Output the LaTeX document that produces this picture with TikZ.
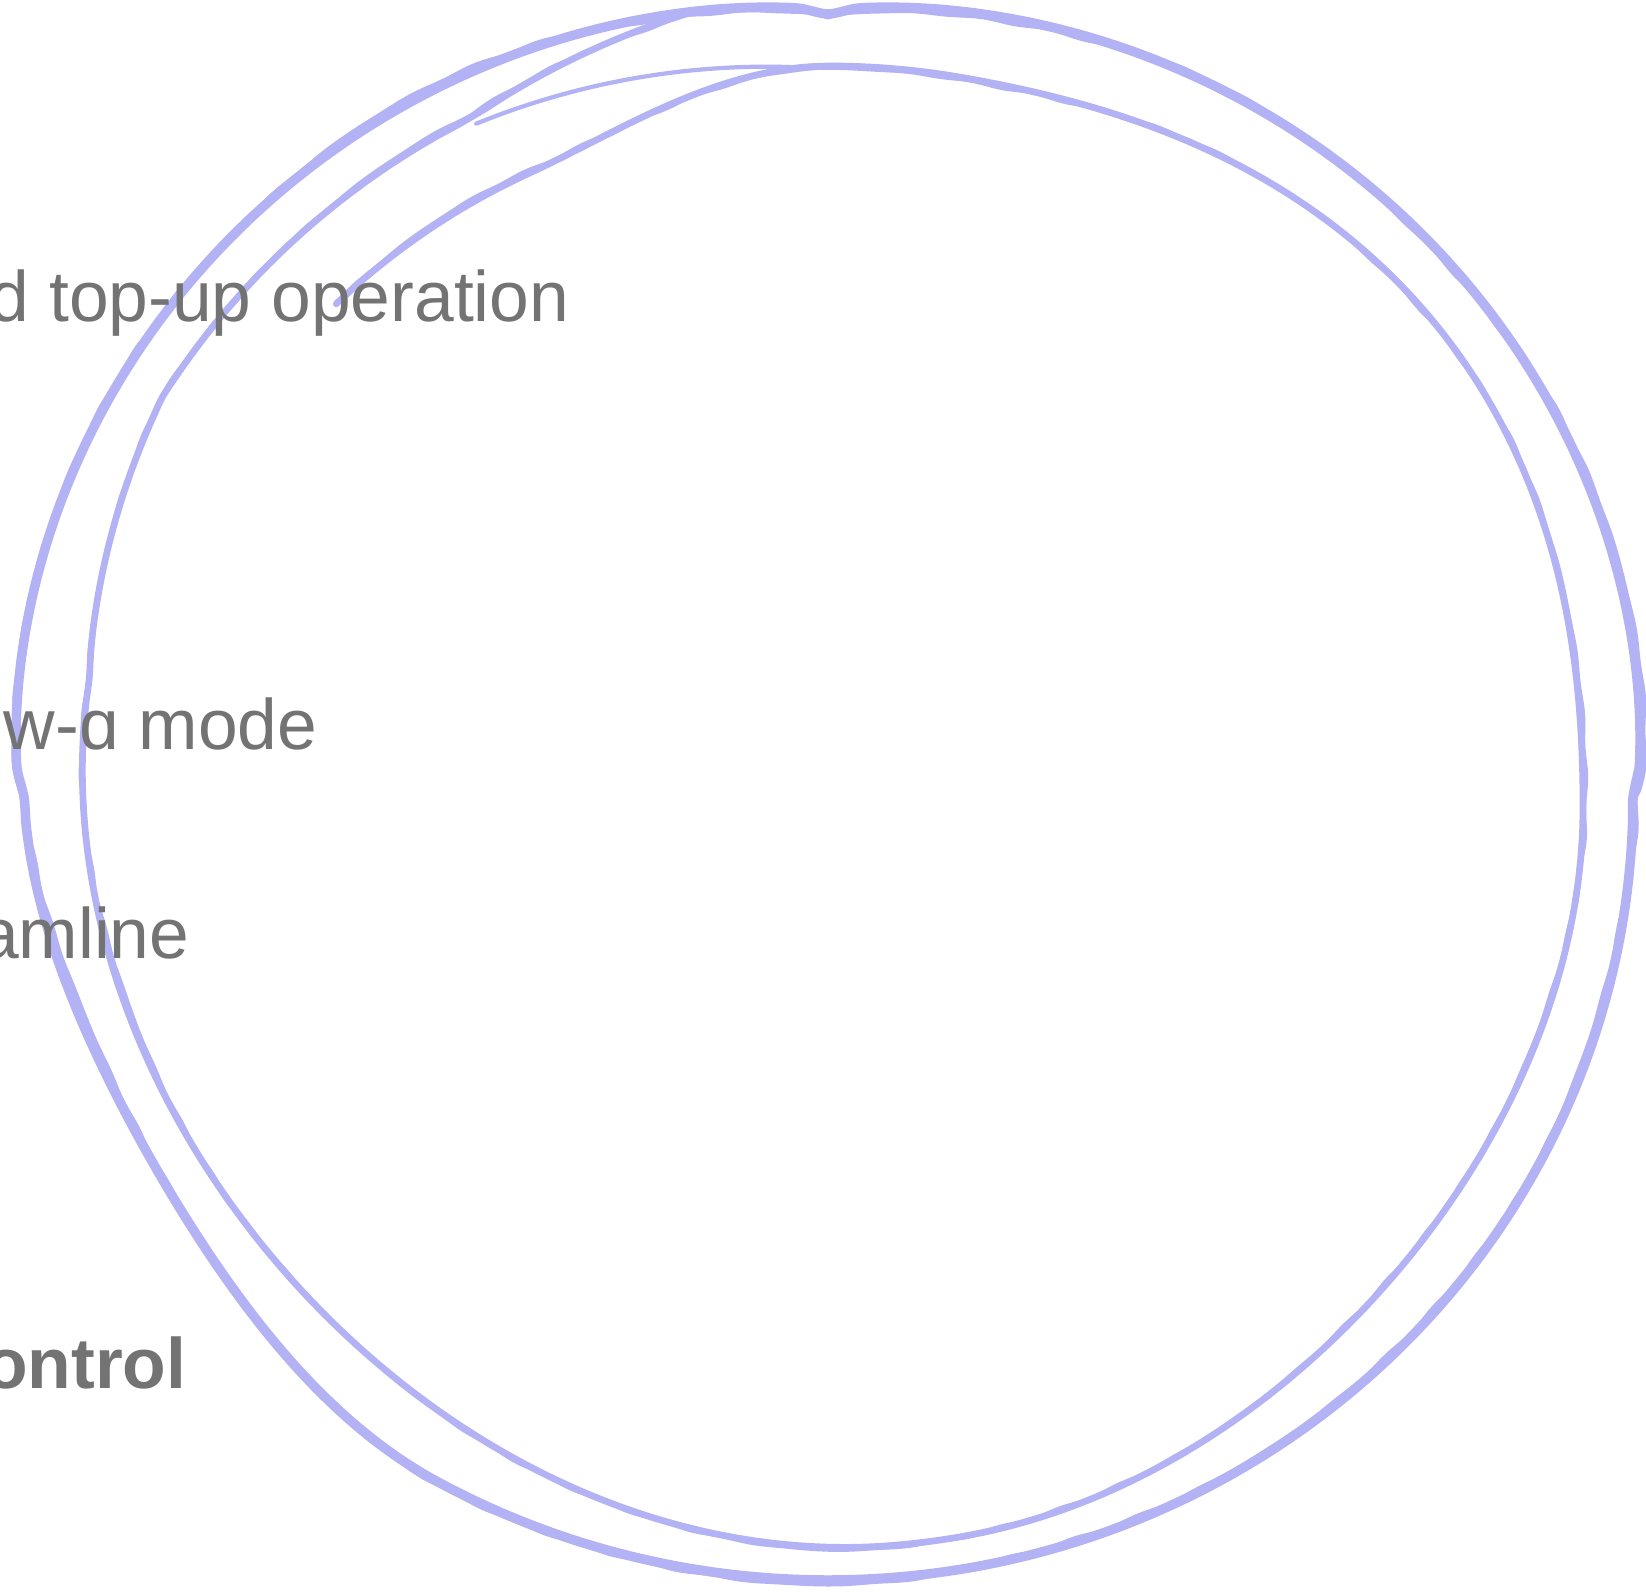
\documentclass[tikz,border=0pt]{standalone}
\usepackage{fontspec}
\setmainfont{Liberation Sans}
\definecolor{ringblue}{RGB}{178,178,245}
\definecolor{labelgray}{RGB}{115,115,115}
\tikzset{
  labeltext/.style={text=labelgray, inner sep=0pt, anchor=base east,
    font=\fontsize{20.3}{24}\selectfont},
  ringline/.style={draw=ringblue, line join=round, line cap=round},
  declare function={
    % smooth bump centred on angle c, zero beyond c +- w
    bmp(\t,\c,\w)=max(0,1-(1-cos(\t-\c))/(1-cos(\w)))*max(0,1-(1-cos(\t-\c))/(1-cos(\w)));
    % fine wobble and slow thickness change of a hand-drawn stroke
    jit(\t)=0.6*sin(41*\t)*sin(29*\t)+0.4*sin(37*\t+11)*sin(43*\t);
    slow(\t)=0.6*sin(3*\t+40)+0.4*sin(7*\t);
    % radius factor of the outer loop (fuller at the top, flatter lower left)
    fo(\t)=1+0.03*sqrt(abs(sin(2*\t)))*(sin(\t)>0)
          -0.04*bmp(\t,209,32);
    % start of the inner spiral: it begins tucked inside at the upper left
    sw(\t)=min(1,max(0,(\t-90)/25));
    % end of the inner spiral: it drifts out to meet the outer loop at the top
    up(\t)=-180-\t;
    fi(\t)=1+0.035*bmp(\t,40,40)
          -0.042*bmp(\t,220,55)
          -0.02*bmp(\t,320,40)
          -0.056*sw(\t)*sw(\t)*(3-2*sw(\t))
          +0.045*min(1,max(0,(up(\t)-10)/22))
          +0.025*max(0,(up(\t)-63)/10);
    ox(\t,\e)=828+805*(fo(\t)+\e)*cos(\t);
    oy(\t,\e)=797-783*(fo(\t)+\e)*sin(\t);
    ix(\t,\e)=830+753*(fi(\t)+\e)*cos(\t);
    iy(\t,\e)=807-741*(fi(\t)+\e)*sin(\t);
  },
}
\begin{document}
\begin{tikzpicture}[x=0.01cm, y=-0.01cm]
\useasboundingbox (0,0) rectangle (1646,1592);
\fill[white] (0,0) rectangle (1646,1592);
\clip (0,0) rectangle (1646,1592);

% outer loop: a clean stroke plus a ragged one beside it
\draw[ringline, line width=2.7pt] plot[domain=0:362, samples=182, smooth]
  ({ox(\x,0)}, {oy(\x,0)});
\draw[ringline, line width=1.9pt] plot[domain=0:362, samples=725]
  ({ox(\x,0.004*slow(\x)+0.003*jit(\x))}, {oy(\x,0.004*slow(\x)+0.003*jit(\x))});

% inner loop, drawn as one spiral stroke
\draw[ringline, line width=1.9pt] plot[domain=-260:134, samples=198, smooth]
  ({ix(\x,0)}, {iy(\x,0)});
\draw[ringline, line width=1.3pt] plot[domain=-260:134, samples=789]
  ({ix(\x,0.003*slow(\x)+0.0028*jit(\x))}, {iy(\x,0.003*slow(\x)+0.0028*jit(\x))});

% short extra stroke near the top, between the spiral's two turns
\draw[ringline, line width=1.2pt] plot[domain=93:117, samples=13, smooth]
  ({830+753*(1+0.035*(\x-93)/24)*cos(\x)}, {807-741*(1+0.035*(\x-93)/24)*sin(\x)});

% labels running off the left edge
\node[labeltext] (topup) at (570,322) {d top-up operation};
\node[labeltext] (lowalpha) at (318,749) {w-ɑ mode};
\node[labeltext] (beamline) at (190,958) {amline};
\node[labeltext, font=\fontsize{20.3}{24}\selectfont\bfseries] (control) at (187,1388) {ontrol};
\end{tikzpicture}
\end{document}
